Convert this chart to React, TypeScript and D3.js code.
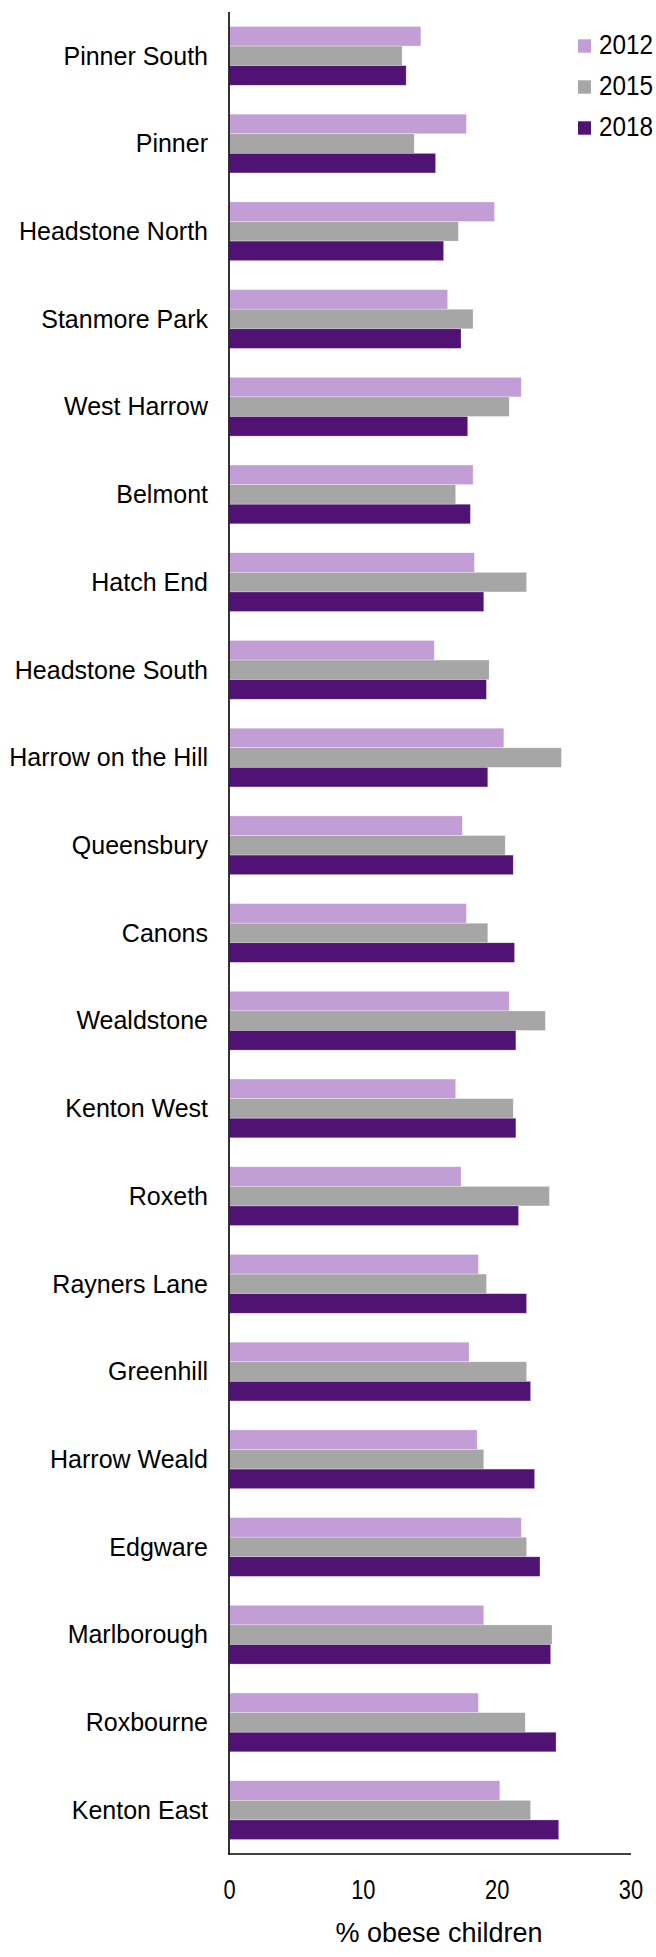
import React from "react";
import * as d3 from "d3";

const wards = [
  "Pinner South", "Pinner", "Headstone North", "Stanmore Park", "West Harrow",
  "Belmont", "Hatch End", "Headstone South", "Harrow on the Hill", "Queensbury",
  "Canons", "Wealdstone", "Kenton West", "Roxeth", "Rayners Lane", "Greenhill",
  "Harrow Weald", "Edgware", "Marlborough", "Roxbourne", "Kenton East",
];
const years = ["2012", "2015", "2018"];
const values2012 = [14.3, 17.7, 19.8, 16.3, 21.8, 18.2, 18.3, 15.3, 20.5, 17.4, 17.7, 20.9, 16.9, 17.3, 18.6, 17.9, 18.5, 21.8, 19.0, 18.6, 20.2];
const values2015 = [12.9, 13.8, 17.1, 18.2, 20.9, 16.9, 22.2, 19.4, 24.8, 20.6, 19.3, 23.6, 21.2, 23.9, 19.2, 22.2, 19.0, 22.2, 24.1, 22.1, 22.5];
const values2018 = [13.2, 15.4, 16.0, 17.3, 17.8, 18.0, 19.0, 19.2, 19.3, 21.2, 21.3, 21.4, 21.4, 21.6, 22.2, 22.5, 22.8, 23.2, 24.0, 24.4, 24.6];
const xTicks = [0, 10, 20, 30];
const colors = ["#C39DD6", "#A6A6A6", "#501273"];
const axisTitle = "% obese children";

const W = 656;
const H = 1957;
const FONT = "'Liberation Sans', Arial, sans-serif";

export default function App() {
  const series = [values2012, values2015, values2018];
  const x = d3.scaleLinear().domain([0, 30]).range([229.5, 631]);
  const y = d3.scaleBand<string>().domain(wards).range([12, 1854]).paddingInner(0.33).paddingOuter(0.165);
  const ySub = d3.scaleBand<string>().domain(years).range([0, y.bandwidth()]);

  return (
    <svg width={W} height={H} style={{ position: "absolute", left: 0, top: 0 }} fontFamily={FONT}>
      <rect width={W} height={H} fill="#fff" />
      {wards.map((w, i) => (
        <g key={w}>
          {years.map((yr, j) => (
            <rect
              key={yr}
              x={x(0)}
              y={(y(w) as number) + (ySub(yr) as number)}
              width={x(series[j][i]) - x(0)}
              height={ySub.bandwidth()}
              fill={colors[j]}
              stroke="#ffffff"
              strokeOpacity={0.5}
              strokeWidth={0.6}
            />
          ))}
          <text
            x={208}
            y={(y(w) as number) + y.bandwidth() / 2}
            dy="0.35em"
            textAnchor="end"
            fontSize={25}
            fill="#000"
          >
            {w}
          </text>
        </g>
      ))}
      {/* axes */}
      <line x1={229} x2={229} y1={12} y2={1854.5} stroke="#000" strokeWidth={1.6} />
      <line x1={228.2} x2={631} y1={1854} y2={1854} stroke="#000" strokeWidth={1.6} />
      {xTicks.map((t) => (
        <text
          key={t}
          transform={`translate(${x(t)},1899) scale(0.78,1)`}
          textAnchor="middle"
          fontSize={28}
          fill="#000"
        >
          {t}
        </text>
      ))}
      <text x={439} y={1942} textAnchor="middle" fontSize={27} fill="#000">
        {axisTitle}
      </text>
      {/* legend */}
      {years.map((yr, j) => (
        <g key={yr} transform={`translate(578,${39.3 + j * 41})`}>
          <rect width={13} height={13.4} fill={colors[j]} />
          <text transform={`translate(21,15) scale(0.9,1)`} fontSize={27} fill="#000">
            {yr}
          </text>
        </g>
      ))}
    </svg>
  );
}
